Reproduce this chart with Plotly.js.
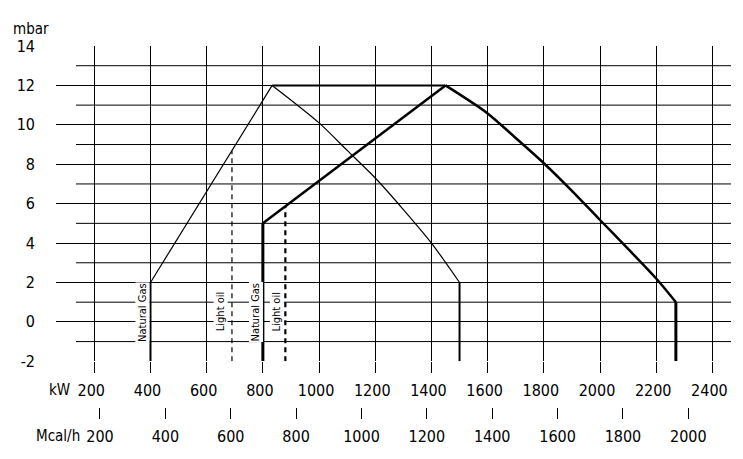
<!DOCTYPE html>
<html>
<head>
<meta charset="utf-8">
<script src="https://cdn.plot.ly/plotly-3.0.1.min.js"></script>
<style>
  html, body { margin: 0; padding: 0; background: #fff; }
  #chart { width: 743px; height: 459px; }
</style>
</head>
<body>
<div id="chart"></div>
<script>
// axis ticks
const kwTicks = [200, 400, 600, 800, 1000, 1200, 1400, 1600, 1800, 2000, 2200, 2400];
const mcalTicks = [200, 400, 600, 800, 1000, 1200, 1400, 1600, 1800, 2000];
const mbarTicks = [-2, 0, 2, 4, 6, 8, 10, 12, 14];
const mbarMinorTicks = [-1, 1, 3, 5, 7, 9, 11, 13];

// smaller burner (thin curve): rising edge, then falling curve
const smallRiseKw = [400, 833];
const smallRiseMbar = [2, 12];
const smallFallKw = [833, 1000, 1100, 1200, 1300, 1400, 1500];
const smallFallMbar = [12, 10.1, 8.7, 7.3, 5.7, 4.0, 2];

// larger burner (thick curve)
const largeRiseKw = [800, 1450];
const largeRiseMbar = [5, 12];
const largeFallKw = [1450, 1600, 1700, 1800, 1900, 2000, 2100, 2200, 2270];
const largeFallMbar = [12, 10.58, 9.33, 8.05, 6.65, 5.17, 3.7, 2.2, 1];

// common top at 12 mbar
const topKw = [833, 1450];
const topMbar = [12, 12];

// light oil minimum output (dashed)
const oilKw = [690, 880];
const oilTopMbar = [8.7, 5.85];

const bottomMbar = -2;
const kwRange = [63.7, 2466.2];
const mcalRange = [65.4, 2130.6];

const FONT = "'DejaVu Sans Condensed', 'Liberation Sans Narrow', 'Liberation Sans', sans-serif";

function line(x, y, width, shape) {
  return {
    x: x, y: y, type: "scatter", mode: "lines",
    line: { color: "#000", width: width, shape: shape || "linear", smoothing: 0.8 },
    hoverinfo: "skip", showlegend: false
  };
}

function vline(x, yTop, width, dash) {
  return {
    x: [x, x], y: [bottomMbar, yTop],
    type: "scatter", mode: "lines",
    line: { color: "#000", width: width, dash: dash || "solid" },
    hoverinfo: "skip", showlegend: false
  };
}

var data = [
  line(smallRiseKw, smallRiseMbar, 1.2),
  line(smallFallKw, smallFallMbar, 1.2, "spline"),
  line(largeRiseKw, largeRiseMbar, 2.5),
  line(largeFallKw, largeFallMbar, 2.5, "spline"),
  line(topKw, topMbar, 2),
  vline(smallRiseKw[0], smallRiseMbar[0], 2),
  vline(smallFallKw[smallFallKw.length - 1], smallFallMbar[smallFallMbar.length - 1], 2),
  vline(largeRiseKw[0], largeRiseMbar[0], 3),
  vline(largeFallKw[largeFallKw.length - 1], largeFallMbar[largeFallMbar.length - 1], 3),
  vline(oilKw[0], oilTopMbar[0], 1.2, "5px,4px"),
  vline(oilKw[1], oilTopMbar[1], 2.2, "5px,4px"),
  // keeps the Mcal/h axis alive
  { x: [mcalTicks[0]], y: [null], xaxis: "x2", type: "scatter", mode: "lines", hoverinfo: "skip", showlegend: false }
];

// odd mbar lines start a little further right than the even ones
var shapes = mbarMinorTicks.map(function (v) {
  return {
    type: "line", xref: "x", yref: "y",
    x0: 135, x1: kwRange[1], y0: v, y1: v,
    line: { color: "#000", width: 1 }, layer: "below"
  };
});

function rotLabel(text, x, shift) {
  return {
    text: text, x: x, y: 0.5, xref: "x", yref: "y",
    xshift: shift, textangle: -90, showarrow: false,
    xanchor: "center", yanchor: "middle",
    bgcolor: "#fff", borderpad: 0,
    font: { family: FONT, size: 11, color: "#000" }
  };
}

var annotations = [
  rotLabel("Natural Gas", smallRiseKw[0], -8.6),
  rotLabel("Light oil", oilKw[0], -11.8),
  rotLabel("Natural Gas", largeRiseKw[0], -7.4),
  rotLabel("Light oil", oilKw[1], -8.9),
  {
    text: "mbar", xref: "paper", yref: "paper", x: 0, y: 1,
    xshift: -25, yshift: 17, showarrow: false, xanchor: "center", yanchor: "middle",
    font: { family: FONT, size: 15, color: "#000" }
  },
  {
    text: "kW", xref: "paper", yref: "paper", x: 0, y: 0,
    xshift: 3, yshift: 17, showarrow: false, xanchor: "center", yanchor: "middle",
    font: { family: FONT, size: 15, color: "#000" }
  },
  {
    text: "Mcal/h", xref: "paper", yref: "paper", x: 0, y: 0,
    xshift: 2, yshift: -28.5, showarrow: false, xanchor: "center", yanchor: "middle",
    font: { family: FONT, size: 15, color: "#000" }
  }
];

var layout = {
  width: 743,
  height: 459,
  margin: { l: 56, r: 12, t: 46, b: 52, pad: 0 },
  paper_bgcolor: "#fff",
  plot_bgcolor: "#fff",
  showlegend: false,
  font: { family: FONT, size: 16, color: "#000" },
  xaxis: {
    range: kwRange,
    tickmode: "array",
    tickvals: kwTicks,
    ticktext: kwTicks.map(String),
    showgrid: true, gridcolor: "#000", gridwidth: 1,
    zeroline: false, showline: false,
    ticks: "outside", ticklen: 11, tickwidth: 1, tickcolor: "#000",
    ticklabelshift: -3, ticklabelstandoff: 4,
    tickfont: { family: FONT, size: 16, color: "#000" },
    anchor: "y",
    fixedrange: true
  },
  xaxis2: {
    range: mcalRange,
    overlaying: "x",
    anchor: "free",
    position: 0,
    side: "bottom",
    tickmode: "array",
    tickvals: mcalTicks,
    ticktext: mcalTicks.map(String),
    showgrid: false, zeroline: false, showline: false,
    ticks: "outside", ticklen: 11, tickwidth: 1, tickcolor: "#000",
    ticklabelstandoff: 4,
    tickfont: { family: FONT, size: 16, color: "#000" },
    fixedrange: true
  },
  yaxis: {
    domain: [0.1266, 1],
    range: [-2, 14],
    tickmode: "array",
    tickvals: mbarTicks,
    ticktext: mbarTicks.map(String),
    showgrid: true, gridcolor: "#000", gridwidth: 1,
    zeroline: false, showline: false,
    ticks: "",
    ticklabelstandoff: 20,
    tickfont: { family: FONT, size: 16, color: "#000" },
    fixedrange: true
  },
  shapes: shapes,
  annotations: annotations
};

Plotly.newPlot("chart", data, layout, { displayModeBar: false, staticPlot: true });
</script>
</body>
</html>
